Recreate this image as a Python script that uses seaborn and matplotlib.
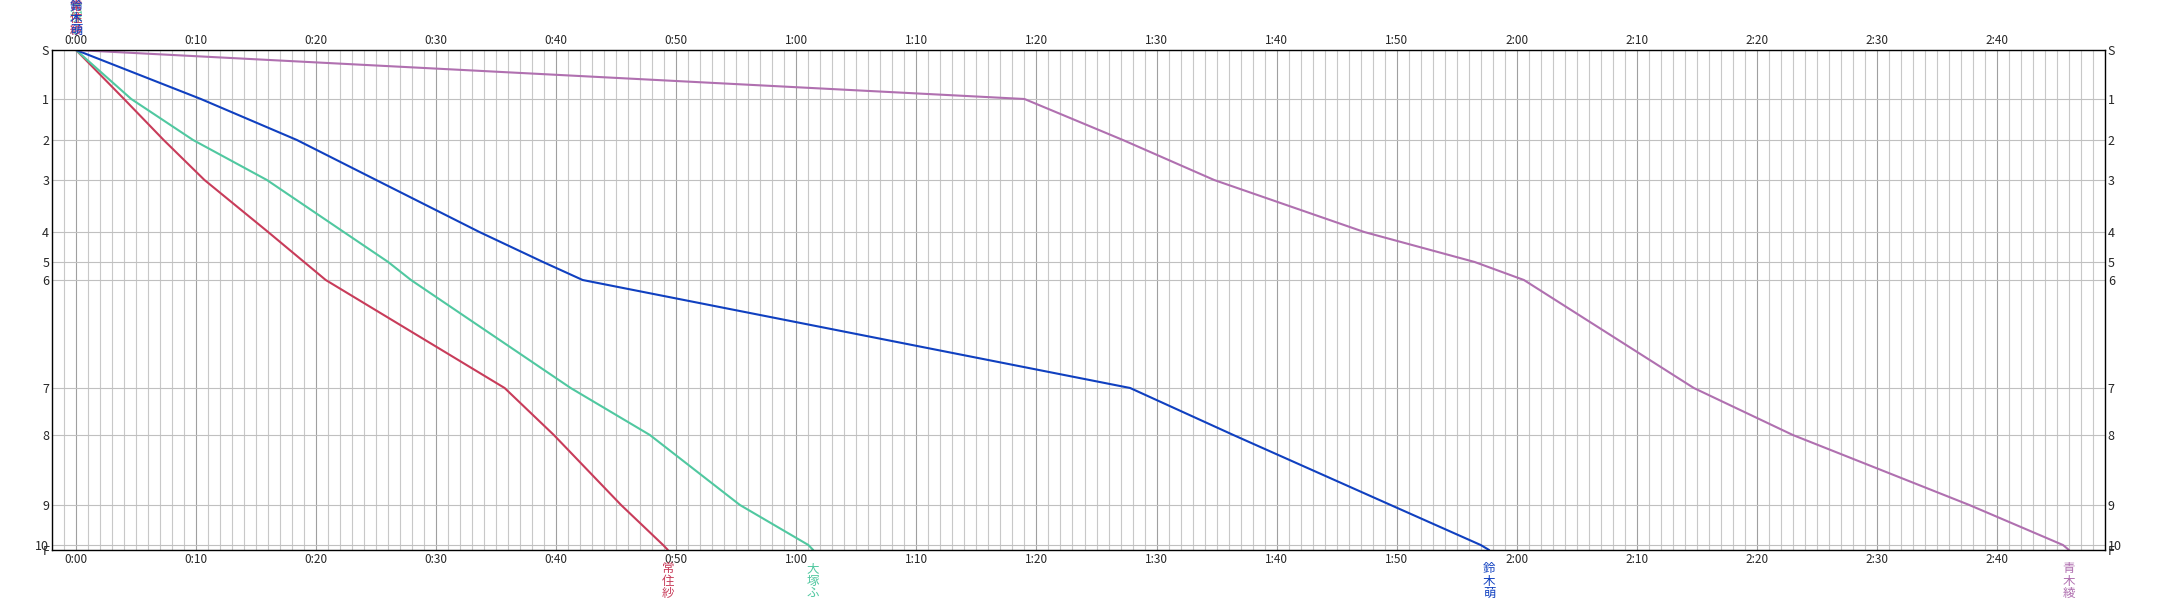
import pandas as pd
import matplotlib.pyplot as plt
import seaborn as sns

# コントロール（縦軸）と位置
controls = ['S', '1', '2', '3', '4', '5', '6', '7', '8', '9', '10', 'F']
course_pos = [0, 49, 90, 130, 182, 212, 230, 338, 385, 455, 495, 500]

# 選手と色
runners = ['常住紗', '大塚ふ', '鈴木萌', '青木綾']
colors = ['#c83c5a', '#50c8a0', '#1040c0', '#b070b0']

# 各コントロール通過時刻（分、S=0）
split_joju = [0, 4.0, 7.3, 10.7, 16.0, 19.0, 20.8, 35.7, 39.8, 45.4, 48.9, 49.3]
split_otsuka = [0, 4.6, 9.75, 15.9, 22.3, 26.0, 27.9, 41.2, 47.8, 55.3, 61.0, 61.4]
split_suzuki = [0, 10.4, 18.4, 25.0, 33.6, 38.9, 42.2, 87.8, 96.4, 109.5, 117.0, 117.7]
split_aoki = [0, 79.0, 87.2, 94.8, 107.3, 116.5, 120.6, 134.75, 143.0, 157.7, 165.5, 166.0]

splits = [split_joju, split_otsuka, split_suzuki, split_aoki]

rows = []
for name, sp in zip(runners, splits):
    for t, p in zip(sp, course_pos):
        rows.append({'runner': name, 'time': t, 'pos': p})
df = pd.DataFrame(rows)

sns.set_style('white')
plt.rcParams['font.family'] = ['Noto Sans CJK JP', 'DejaVu Sans']

fig = plt.figure(figsize=(21.57, 6), dpi=100)
ax = fig.add_axes([52 / 2157, 50 / 600, (2105 - 52) / 2157, 500 / 600])

sns.lineplot(data=df, x='time', y='pos', hue='runner',
             palette=dict(zip(runners, colors)), sort=False,
             estimator=None, legend=False, linewidth=1.5, ax=ax)

ax.set_xlim(-2, 169)
ax.set_ylim(course_pos[-1], course_pos[0])

# 時間軸
major = list(range(0, 161, 10))
ax.set_xticks(major)
ax.set_xticklabels([f'{m // 60}:{m % 60:02d}' for m in major])
ax.set_xticks(list(range(-2, 170)), minor=True)
ax.set_yticks(course_pos)
ax.set_yticklabels(controls)

ax.grid(which='minor', axis='x', color='#c8c8c8', linewidth=0.8)
ax.grid(which='major', axis='x', color='#a0a0a0', linewidth=0.8)
ax.grid(which='major', axis='y', color='#c0c0c0', linewidth=0.8)
ax.set_axisbelow(True)

ax.tick_params(axis='x', which='both', length=0, top=True, labeltop=True,
               labelbottom=True, pad=2, labelsize=8.5)
ax.tick_params(axis='y', length=0, left=True, right=True, labelright=True,
               pad=2, labelsize=9)
ax.set_xlabel('')
ax.set_ylabel('')
for s in ax.spines.values():
    s.set_color('black')
    s.set_linewidth(1.0)

# 選手名（スタート上とゴール下）
tr = ax.get_xaxis_transform()
top_order = [1, 3, 0, 2]
for i in top_order:
    ax.text(0, 1.026, '\n'.join(runners[i]), transform=tr, ha='center',
            va='bottom', color=colors[i], fontsize=9, linespacing=0.92)
for name, c, sp in zip(runners, colors, splits):
    ax.text(sp[-1], -0.024, '\n'.join(name), transform=tr, ha='center',
            va='top', color=c, fontsize=9, linespacing=0.95)

fig.savefig('out.png', dpi=100)
